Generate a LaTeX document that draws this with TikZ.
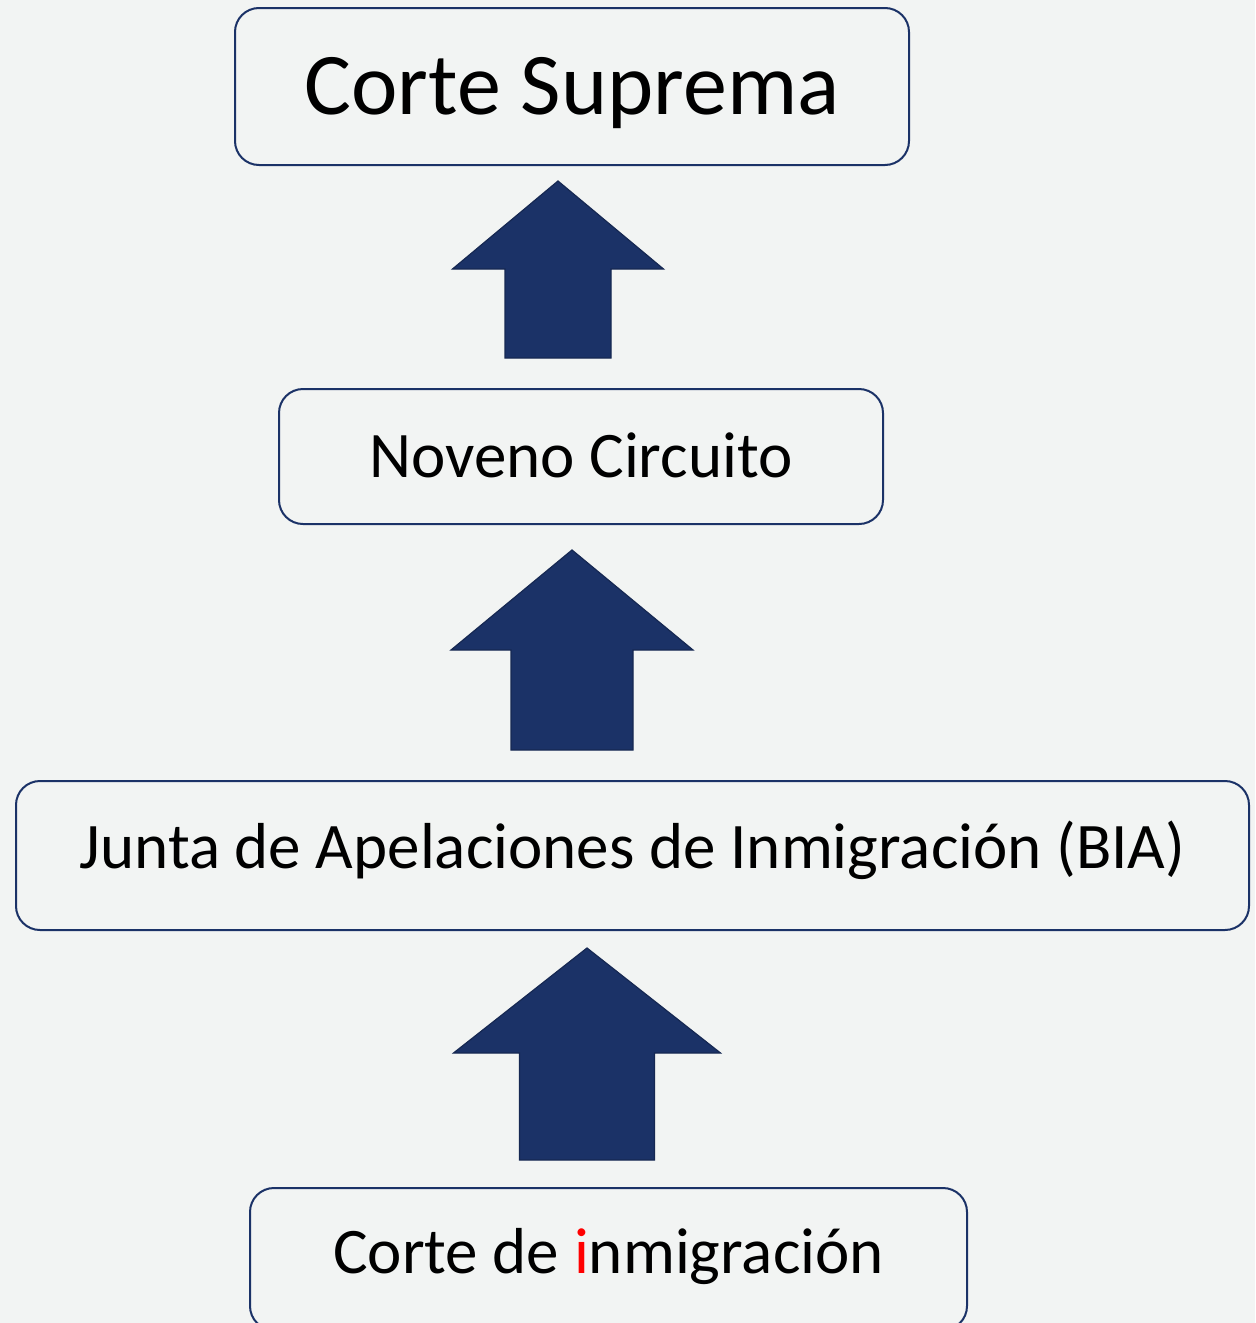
\documentclass[tikz,border=0pt]{standalone}
\usepackage{xcolor}
\usepackage{fontspec}
\setmainfont{Carlito}
\usepackage{tikz}
\usetikzlibrary{positioning}
\definecolor{courtnavy}{HTML}{1B3267}
\definecolor{paperbg}{HTML}{F2F4F3}
\definecolor{markred}{HTML}{FF0000}

\tikzset{
  courtbox/.style={draw=courtnavy, line width=1pt, rounded corners=12pt, fill=paperbg,
    inner sep=0pt, text depth=0pt, text=black},
  bigtext/.style={font=\fontsize{44}{52}\selectfont, text height=28.3pt},
  smalltext/.style={font=\fontsize{32.5}{39}\selectfont, text height=20.9pt},
  uparrow/.style={fill=courtnavy, draw=courtnavy!80!black, line width=0.6pt}
}

\begin{document}
\begin{tikzpicture}[x=0.5pt, y=-0.5pt]
    % Background (fixes the page size)
    \fill[paperbg] (0,0) rectangle (1255,1323);
    \useasboundingbox (0,0) rectangle (1255,1323);

    % Court levels
    \node[courtbox, bigtext, minimum width=337pt, minimum height=78.5pt]
        (supreme) at (572,86.5) {Corte Suprema};
    \node[courtbox, smalltext, minimum width=302pt, minimum height=67.5pt]
        (ninth) at (581,456.5) {Noveno Circuito};
    \node[courtbox, smalltext, text depth=7.5pt, minimum width=616.5pt, minimum height=74.5pt]
        (bia) at (632.5,855.5) {Junta de Apelaciones de Inmigración (BIA)};
    \node[courtbox, smalltext, text depth=6.5pt, minimum width=358.5pt, minimum height=71pt]
        (immig) at (608.5,1259) {Corte de {\color{markred}i}nmigración};

    % Appeal arrows: tip x, tip y, head half width, head base y, shaft half width, bottom y
    \foreach \tx/\ty/\hw/\hy/\sw/\by in {558/181/105.5/269/53/358,
                                         572/550/121/650/61/750,
                                         587/948/133.5/1053/67.5/1160}
        \draw[uparrow] (\tx,\ty) -- (\tx+\hw,\hy) -- (\tx+\sw,\hy) -- (\tx+\sw,\by)
            -- (\tx-\sw,\by) -- (\tx-\sw,\hy) -- (\tx-\hw,\hy) -- cycle;
\end{tikzpicture}
\end{document}
